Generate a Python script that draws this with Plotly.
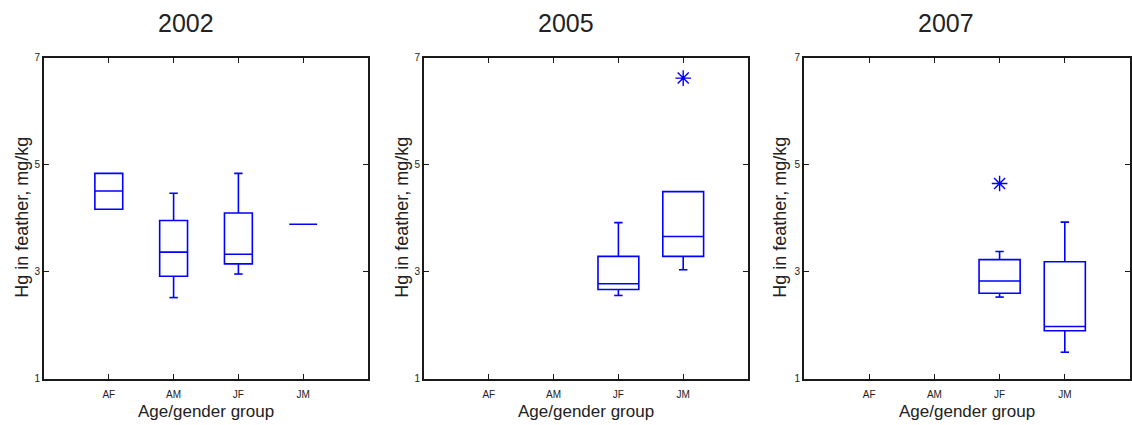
import plotly.graph_objects as go

# ---- data ----
categories = ["AF", "AM", "JF", "JM"]
positions = [1, 2, 3, 4]
years = ["2002", "2005", "2007"]

# per-year box statistics (None = no data for that group)
lower_2002 = [4.17, 2.52, 2.96, 3.89]
q1_2002 = [4.17, 2.92, 3.15, 3.89]
median_2002 = [4.51, 3.37, 3.33, 3.89]
q3_2002 = [4.84, 3.96, 4.10, 3.89]
upper_2002 = [4.84, 4.47, 4.84, 3.89]
outliers_2002 = [[], [], [], []]

lower_2005 = [None, None, 2.56, 3.04]
q1_2005 = [None, None, 2.67, 3.29]
median_2005 = [None, None, 2.78, 3.66]
q3_2005 = [None, None, 3.29, 4.50]
upper_2005 = [None, None, 3.92, 4.50]
outliers_2005 = [[], [], [], [6.62]]

lower_2007 = [None, None, 2.53, 1.50]
q1_2007 = [None, None, 2.60, 1.90]
median_2007 = [None, None, 2.83, 1.98]
q3_2007 = [None, None, 3.23, 3.19]
upper_2007 = [None, None, 3.38, 3.93]
outliers_2007 = [[], [], [4.65], []]

y_ticks = [1, 3, 5, 7]
y_title = "Hg in feather, mg/kg"
x_title = "Age/gender group"

stats = {
    "2002": (lower_2002, q1_2002, median_2002, q3_2002, upper_2002, outliers_2002),
    "2005": (lower_2005, q1_2005, median_2005, q3_2005, upper_2005, outliers_2005),
    "2007": (lower_2007, q1_2007, median_2007, q3_2007, upper_2007, outliers_2007),
}

# ---- layout geometry (pixels) ----
W, H = 1132, 425
panels_px = [(44, 368), (424, 748), (804, 1130)]
box_widths = [0.43, 0.63, 0.63]
title_x_px = [185.5, 566, 946]
ylab_x_px = [22, 402, 780]
y_top_px, y_bot_px = 54, 383

BLUE = "#0000FF"
FRAME = "#1a1a1a"
FONT = "Liberation Sans, Arial, sans-serif"

fig = go.Figure()

for i, yr in enumerate(years):
    lo, q1, md, q3, hi, outs = stats[yr]
    xa = "x" if i == 0 else f"x{i+1}"
    ya = "y" if i == 0 else f"y{i+1}"
    for k, pos in enumerate(positions):
        if md[k] is None:
            continue
        fig.add_trace(go.Box(
            x=[pos], q1=[q1[k]], median=[md[k]], q3=[q3[k]],
            lowerfence=[lo[k]], upperfence=[hi[k]],
            width=box_widths[i], boxpoints=False,
            line=dict(color=BLUE, width=1.6),
            fillcolor="rgba(0,0,0,0)",
            whiskerwidth=0,
            xaxis=xa, yaxis=ya, showlegend=False, hoverinfo="skip",
        ))
        # whisker end caps
        caps_y = [v for v, b in ((lo[k], q1[k]), (hi[k], q3[k])) if v != b]
        if caps_y:
            fig.add_trace(go.Scatter(
                x=[pos] * len(caps_y), y=caps_y, mode="markers",
                marker=dict(symbol="line-ew", size=6, color=BLUE,
                            line=dict(color=BLUE, width=1.6)),
                xaxis=xa, yaxis=ya, showlegend=False, hoverinfo="skip",
            ))
        if outs[k]:
            fig.add_trace(go.Scatter(
                x=[pos] * len(outs[k]), y=outs[k], mode="markers",
                marker=dict(symbol="asterisk-open", size=13, color=BLUE,
                            line=dict(color=BLUE, width=1.4)),
                xaxis=xa, yaxis=ya, showlegend=False, hoverinfo="skip",
            ))

ydom = [1 - y_bot_px / H, 1 - y_top_px / H]
layout = dict(
    width=W, height=H,
    margin=dict(l=0, r=0, t=0, b=0),
    paper_bgcolor="white", plot_bgcolor="white",
    font=dict(family=FONT, color="#222"),
    annotations=[],
)
for i, yr in enumerate(years):
    x0, x1 = panels_px[i]
    sfx = "" if i == 0 else str(i + 1)
    layout[f"xaxis{sfx}"] = dict(
        domain=[x0 / W, x1 / W], range=[0, 5],
        tickvals=positions, ticktext=categories,
        ticks="inside", ticklen=5, tickwidth=1.3, tickcolor=FRAME,
        showline=True, linecolor=FRAME, linewidth=1.8, mirror="ticks",
        showgrid=False, zeroline=False, fixedrange=True,
        tickfont=dict(size=10, color="#222", family=FONT),
        ticklabelstandoff=5,
        anchor=f"y{sfx}",
    )
    layout[f"yaxis{sfx}"] = dict(
        domain=ydom, range=[1, 7],
        tickvals=y_ticks, ticktext=[str(v) for v in y_ticks],
        ticks="inside", ticklen=5, tickwidth=1.3, tickcolor=FRAME,
        showline=True, linecolor=FRAME, linewidth=1.8, mirror="ticks",
        showgrid=False, zeroline=False, fixedrange=True,
        tickfont=dict(size=10, color="#222", family=FONT),
        anchor=f"x{sfx}",
    )
    cx = (x0 + x1) / 2
    layout["annotations"].append(dict(
        text=yr, x=title_x_px[i] / W, y=1 - 18 / H, xref="paper", yref="paper",
        xanchor="center", yanchor="middle", showarrow=False,
        font=dict(size=25, color="#222", family=FONT),
    ))
    layout["annotations"].append(dict(
        text=x_title, x=cx / W, y=1 - 416 / H, xref="paper", yref="paper",
        xanchor="center", yanchor="middle", showarrow=False,
        font=dict(size=17, color="#222", family=FONT),
    ))
    layout["annotations"].append(dict(
        text=y_title, x=ylab_x_px[i] / W, y=1 - 218 / H, xref="paper", yref="paper",
        xanchor="center", yanchor="middle", showarrow=False, textangle=-90,
        font=dict(size=18, color="#222", family=FONT),
    ))

fig.update_layout(**layout)
fig.write_html(
    "out.html",
    config={"displayModeBar": False},
    post_script="document.body.style.margin='0';document.body.style.padding='0';",
)
